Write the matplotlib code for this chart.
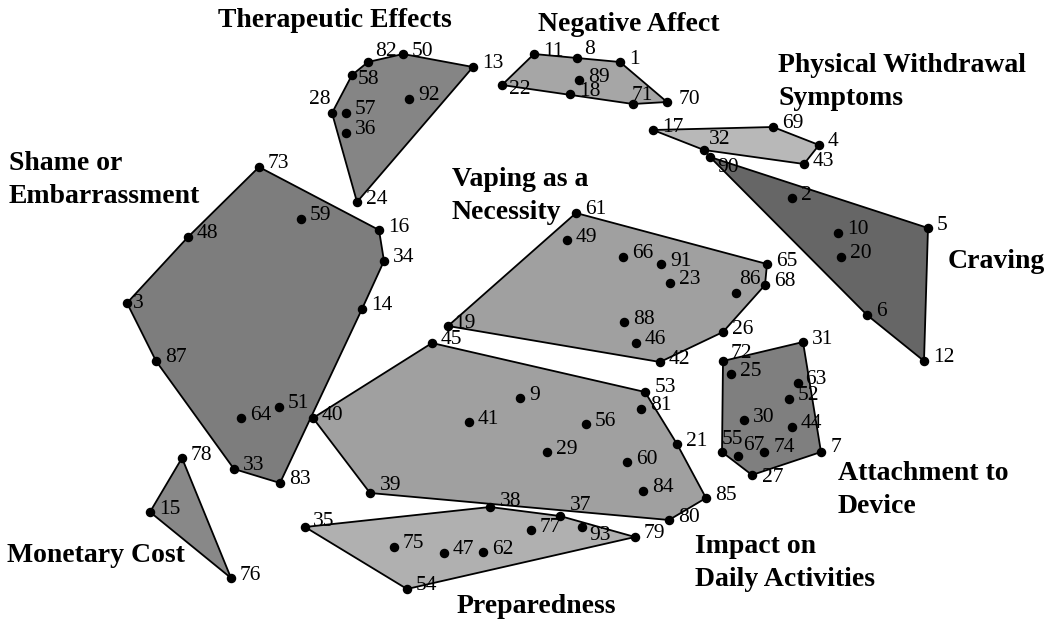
import numpy as np
import matplotlib.pyplot as plt
from matplotlib.patches import Polygon

# STATEMENT POINTS (map coordinates, y grows downward)
point_ids = [82, 50, 13, 58, 28, 57, 36, 92, 24,
             73, 59, 16, 34, 48, 3, 14, 87, 64, 51, 33, 83,
             78, 15, 76,
             11, 8, 1, 22, 89, 18, 71, 70,
             17, 69, 4, 43, 32,
             90, 2, 5, 10, 20, 6, 12,
             61, 49, 66, 91, 23, 86, 65, 68, 88, 46, 42, 26, 19,
             45, 40, 39, 41, 53, 81, 9, 56, 29, 60, 21, 84, 85, 80,
             35, 38, 37, 77, 93, 79, 75, 47, 62, 54,
             72, 31, 25, 63, 52, 30, 44, 55, 67, 74, 7, 27]
point_x = [368, 403, 473, 352, 332, 346, 346, 409, 357,
           259, 301, 379, 384, 188, 127, 362, 156, 241, 279, 234, 280,
           182, 150, 231,
           534, 577, 620, 502, 579, 570, 633, 667,
           653, 773, 819, 804, 704,
           710, 792, 928, 838, 841, 867, 924,
           576, 567, 623, 661, 670, 736, 767, 765, 624, 636, 660, 723, 448,
           432, 313, 370, 469, 645, 641, 520, 586, 547, 627, 677, 643, 706, 669,
           305, 490, 560, 531, 582, 635, 394, 444, 483, 407,
           723, 803, 731, 798, 789, 744, 792, 722, 738, 764, 821, 752]
point_y = [62, 54, 67, 75, 113, 113, 133, 99, 202,
           167, 219, 230, 261, 237, 303, 309, 361, 418, 407, 469, 483,
           458, 512, 578,
           54, 58, 62, 85, 80, 94, 104, 102,
           130, 127, 145, 164, 150,
           157, 198, 228, 233, 257, 315, 361,
           213, 240, 257, 264, 283, 293, 264, 285, 322, 343, 362, 332, 326,
           343, 418, 493, 422, 392, 409, 398, 424, 452, 462, 444, 491, 498, 520,
           527, 507, 516, 530, 527, 537, 547, 553, 552, 589,
           361, 342, 374, 383, 399, 420, 427, 452, 456, 452, 452, 475]

# CLUSTERS
therapeutic = [82, 50, 13, 58, 28, 57, 36, 92, 24]
shame = [73, 59, 16, 34, 48, 3, 14, 87, 64, 51, 33, 83]
monetary = [78, 15, 76]
negative = [11, 8, 1, 22, 89, 18, 71, 70]
physical = [17, 69, 4, 43, 32]
craving = [90, 2, 5, 10, 20, 6, 12]
necessity = [61, 49, 66, 91, 23, 86, 65, 68, 88, 46, 42, 26, 19]
impact = [45, 40, 39, 41, 53, 81, 9, 56, 29, 60, 21, 84, 85, 80]
preparedness = [35, 38, 37, 77, 93, 79, 75, 47, 62, 54]
attachment = [72, 31, 25, 63, 52, 30, 44, 55, 67, 74, 7, 27]

clusters = [therapeutic, shame, monetary, negative, physical,
            craving, necessity, impact, preparedness, attachment]
cluster_names = ['Therapeutic Effects', 'Shame or\nEmbarrassment', 'Monetary Cost',
                 'Negative Affect', 'Physical Withdrawal\nSymptoms', 'Craving',
                 'Vaping as a\nNecessity', 'Impact on\nDaily Activities',
                 'Preparedness', 'Attachment to\nDevice']
cluster_fill = ['#858585', '#7d7d7d', '#888888', '#a6a6a6', '#b8b8b8',
                '#666666', '#a0a0a0', '#a0a0a0', '#b0b0b0', '#7f7f7f']
# posição do título de cada cluster (x esquerdo, linha de base da 1ª linha)
name_pos = [(218, 27), (9, 170), (7, 562), (538, 31), (778, 72),
            (948, 268), (452, 186), (695, 553), (457, 613), (838, 480)]

# DESLOCAMENTO DOS RÓTULOS NUMÉRICOS (padrão = (9, -3))
label_offset = {82: (7, -10), 28: (-1, -14), 58: (6, 5), 8: (7, -8), 22: (7, 4),
                71: (-1, -9), 70: (12, -3), 32: (5, -10), 90: (7, 11), 86: (3, -13),
                19: (6, -3), 3: (6, 0), 53: (10, -5), 39: (10, -8), 38: (10, -5),
                37: (10, -10), 93: (7, 8), 35: (8, -5), 72: (8, -8), 63: (7, -3),
                55: (0, -13), 67: (5, -10), 74: (10, -5), 7: (10, -5), 27: (10, 3)}


def fecho_convexo(pts):
    # monotone chain
    pts = sorted(set(pts))
    def cruz(o, a, b):
        return (a[0] - o[0]) * (b[1] - o[1]) - (a[1] - o[1]) * (b[0] - o[0])
    inf, sup = [], []
    for p in pts:
        while len(inf) >= 2 and cruz(inf[-2], inf[-1], p) <= 0:
            inf.pop()
        inf.append(p)
    for p in reversed(pts):
        while len(sup) >= 2 and cruz(sup[-2], sup[-1], p) <= 0:
            sup.pop()
        sup.append(p)
    return inf[:-1] + sup[:-1]


coord = {pid: (x, y) for pid, x, y in zip(point_ids, point_x, point_y)}

fig = plt.figure(figsize=(10.5, 6.27), dpi=100)
ax = fig.add_axes([0, 0, 1, 1])
ax.set_xlim(0, 1050)
ax.set_ylim(627, 0)
ax.axis('off')

for membros, cor in zip(clusters, cluster_fill):
    casco = fecho_convexo([coord[m] for m in membros])
    ax.add_patch(Polygon(casco, closed=True, facecolor=cor, edgecolor='black',
                         linewidth=1.3, zorder=1))

ax.scatter(point_x, point_y, s=34, color='black', zorder=3)

for pid in point_ids:
    dx, dy = label_offset.get(pid, (9, -3))
    x, y = coord[pid]
    ha = 'right' if pid == 28 else 'left'
    ax.text(x + dx, y + dy, str(pid), fontsize=15.5, family='Liberation Serif',
            ha=ha, va='center', zorder=4)

# TÍTULOS: uma linha por vez, 33 px entre linhas de base
for nome, (nx, ny) in zip(cluster_names, name_pos):
    for i, linha in enumerate(nome.split('\n')):
        ax.text(nx, ny + 33 * i, linha, fontsize=20, family='Liberation Serif',
                fontweight='bold', ha='left', va='baseline', zorder=5)

fig.savefig('out.png', dpi=100)
